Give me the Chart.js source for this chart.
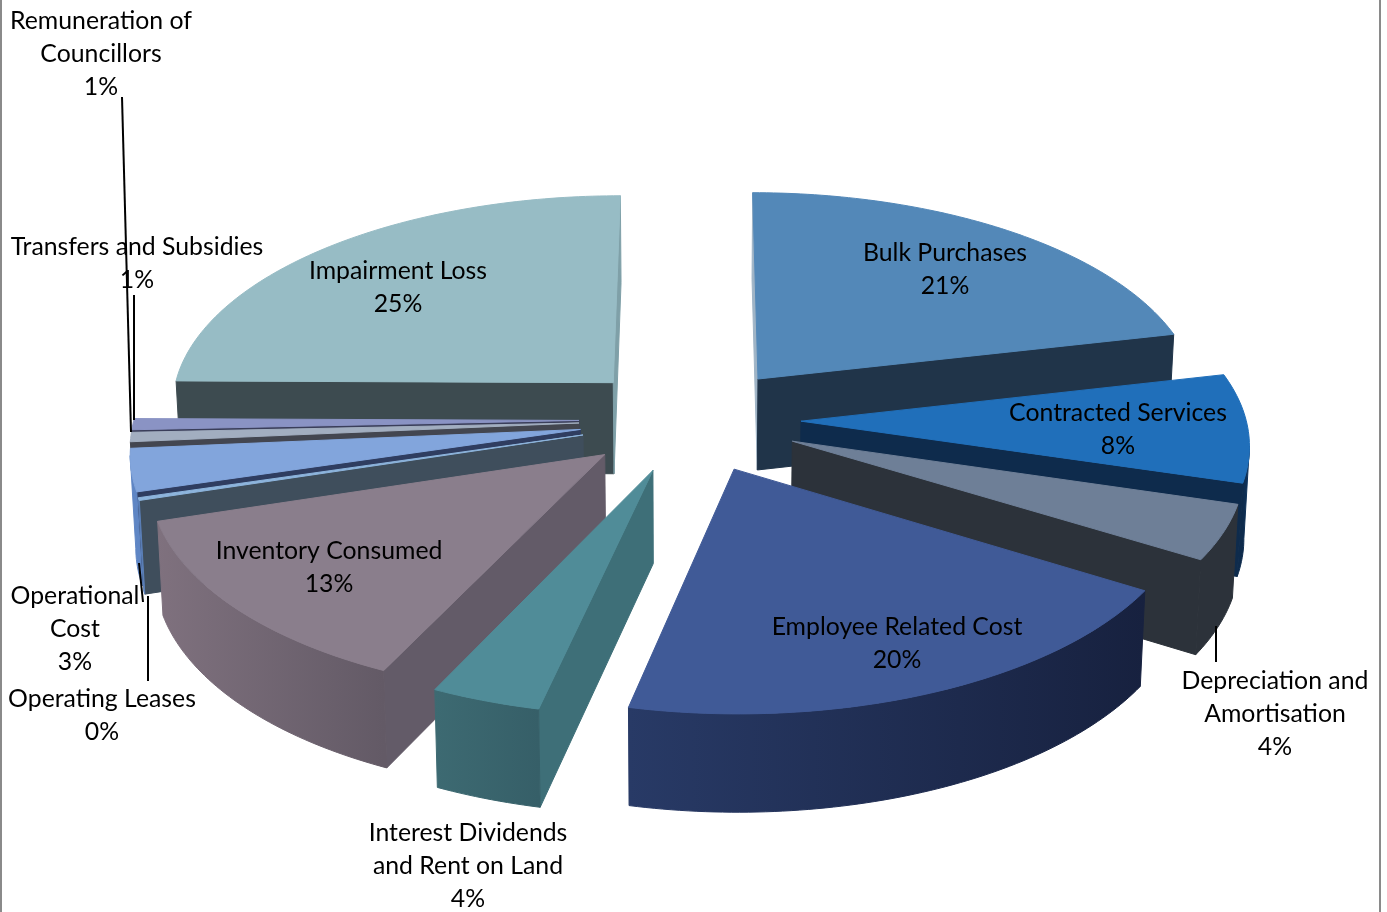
<!DOCTYPE html>
<html>
<head>
<meta charset="utf-8">
<title>Expenditure by category</title>
<script src="https://cdn.jsdelivr.net/npm/chart.js@4"></script>
<style>
  html, body { margin: 0; padding: 0; background: #fff; }
  canvas { display: block; }
</style>
</head>
<body>
<canvas id="pie" width="1387" height="912"></canvas>
<script>
// Share of expenditure per category, clockwise from twelve o'clock.
const categories = [
  'Bulk Purchases', 'Contracted Services', 'Depreciation and Amortisation',
  'Employee Related Cost', 'Interest Dividends and Rent on Land', 'Inventory Consumed',
  'Operating Leases', 'Operational Cost', 'Remuneration of Councillors',
  'Transfers and Subsidies', 'Impairment Loss'
];
const shares = [21.4, 8.2, 4.15, 19.75, 3.55, 13.15, 0.2, 3.2, 0.7, 0.84, 24.86];

// Face colours of each slice.
const topColors = ['#5388b8', '#206fba', '#6e7f97', '#405a97', '#508c98', '#8a7e8c',
                   '#8db4dc', '#82a5dc', '#a2aec0', '#8a93c4', '#97bcc5'];
const startWallColors = ['#9fb4c6', '#0e2b4c', '#2c323a', '#182240', '#3e6f78', '#635b68',
                         '#3f4e5c', '#2f3d60', '#434650', '#3a3e5a', '#3d4b50'];
const endWallColors = ['#203449', '#0e2b4c', '#2c323a', '#182240', '#3e6f78', '#635b68',
                       '#3f4e5c', '#2f3d60', '#434650', '#3a3e5a', '#7fa0a8'];
const rimLeftColors = ['#203449', '#0e2b4c', '#2c323a', '#283a66', '#3d6a72', '#7f717e',
                       '#5a7fb8', '#5f86c4', '#434650', '#3a3e5a', '#3d4b50'];
const rimRightColors = ['#203449', '#0e3560', '#2c323a', '#17213f', '#365f68', '#635a66',
                        '#5a7fb8', '#5f86c4', '#434650', '#3a3e5a', '#3d4b50'];

// Where each category's text block sits: centre x, first line centre y, wrap width.
const labelBoxes = [
  { x: 945, y: 253, w: 300 }, { x: 1118, y: 413, w: 300 }, { x: 1275, y: 681, w: 200 },
  { x: 897, y: 627, w: 300 }, { x: 468, y: 833, w: 210 }, { x: 329, y: 551, w: 300 },
  { x: 102, y: 699, w: 300 }, { x: 75, y: 596, w: 140 }, { x: 101, y: 21, w: 200 },
  { x: 137, y: 247, w: 300 }, { x: 398, y: 271, w: 300 }
];
const leaderLines = [
  [122, 97, 131, 432], [134, 295, 134, 420], [139, 563, 143, 602],
  [148, 596, 148, 681], [1216, 626, 1216, 662]
];

// Camera: the pie plane is seen in perspective, converging on a far vanishing point.
const camera = { cx: 690, cy: 419.5, vanishX: 696, vanishY: -1800, falloff: 0.000214 };
const LINE_HEIGHT = 32.8;
const FONT = '24.8px Lato';

function project(u, w) {
  const s = 1 / (1 - camera.falloff * w);
  return {
    x: camera.vanishX + (camera.cx - camera.vanishX + u) * s,
    y: camera.vanishY + (camera.cy - camera.vanishY) * s
  };
}
// Matching point on the underside of the extruded pie.
function lower(p) {
  return {
    x: camera.cx + (p.x - camera.cx) * 0.99,
    y: p.y + 91 + 0.022 * (p.y - 380)
  };
}

function sliceOutline(arc) {
  const off = arc.options.offset || 0;
  const mid = (arc.startAngle + arc.endAngle) / 2;
  const ox = Math.cos(mid) * off, oy = Math.sin(mid) * off;
  const R = arc.outerRadius;
  const steps = Math.max(2, Math.ceil((arc.endAngle - arc.startAngle) / (Math.PI / 180)));
  const rim = [];
  for (let i = 0; i <= steps; i++) {
    const a = arc.startAngle + (arc.endAngle - arc.startAngle) * i / steps;
    rim.push(project(ox + R * Math.cos(a), oy + R * Math.sin(a)));
  }
  return { apex: project(ox, oy), rim };
}

function fillPath(ctx, pts, fill) {
  ctx.beginPath();
  pts.forEach((p, i) => (i ? ctx.lineTo(p.x, p.y) : ctx.moveTo(p.x, p.y)));
  ctx.closePath();
  ctx.fillStyle = fill;
  ctx.strokeStyle = fill;
  ctx.lineWidth = 1;
  ctx.fill();
  ctx.stroke();
}

function drawSlice(ctx, arc, i) {
  const { apex, rim } = sliceOutline(arc);
  const first = rim[0], last = rim[rim.length - 1];
  // Only faces turned towards the viewer need painting: edges running leftwards.
  if (first.x < apex.x) fillPath(ctx, [apex, first, lower(first), lower(apex)], startWallColors[i]);
  if (apex.x < last.x) fillPath(ctx, [last, apex, lower(apex), lower(last)], endWallColors[i]);
  const facing = rim.filter((p, k) => (k < rim.length - 1 && rim[k + 1].x < p.x) || (k > 0 && p.x < rim[k - 1].x));
  if (facing.length > 1) {
    const xs = facing.map(p => p.x);
    const grad = ctx.createLinearGradient(Math.min(...xs), 0, Math.max(...xs) + 0.01, 0);
    grad.addColorStop(0, rimLeftColors[i]);
    grad.addColorStop(1, rimRightColors[i]);
    fillPath(ctx, [...facing, ...facing.map(lower).reverse()], grad);
  }
  fillPath(ctx, [apex, ...rim], topColors[i]);
}

const pie3d = {
  id: 'pie3d',
  beforeDraw(chart) {
    const { ctx } = chart;
    ctx.save();
    ctx.fillStyle = '#fff';
    ctx.fillRect(0, 0, 1387, 912);
    ctx.fillStyle = '#8a8a8a';
    ctx.fillRect(0, 0, 2, 912);
    ctx.fillRect(1379, 0, 2, 912);
    ctx.restore();
  },
  beforeDatasetDraw(chart, args) {
    const { ctx } = chart;
    const arcs = chart.getDatasetMeta(args.index).data;
    const order = arcs.map((arc, i) => i).sort((p, q) => {
      const depth = a => Math.sin((a.startAngle + a.endAngle) / 2);
      return depth(arcs[p]) - depth(arcs[q]);
    });
    ctx.save();
    order.forEach(i => drawSlice(ctx, arcs[i], i));
    ctx.restore();
    return false;
  },
  afterDatasetsDraw(chart) {
    const { ctx } = chart;
    ctx.save();
    ctx.strokeStyle = '#000';
    ctx.lineWidth = 2;
    leaderLines.forEach(([x0, y0, x1, y1]) => {
      ctx.beginPath();
      ctx.moveTo(x0, y0);
      ctx.lineTo(x1, y1);
      ctx.stroke();
    });
    ctx.font = FONT;
    ctx.fillStyle = '#000';
    ctx.textAlign = 'center';
    ctx.textBaseline = 'middle';
    categories.forEach((name, i) => {
      const box = labelBoxes[i];
      const lines = [];
      name.split(' ').forEach(word => {
        const cur = lines[lines.length - 1];
        if (cur !== undefined && ctx.measureText(cur + ' ' + word).width <= box.w) {
          lines[lines.length - 1] = cur + ' ' + word;
        } else {
          lines.push(word);
        }
      });
      lines.push(Math.round(shares[i]) + '%');
      lines.forEach((text, k) => ctx.fillText(text, box.x, box.y + k * LINE_HEIGHT));
    });
    ctx.restore();
  }
};

new Chart(document.getElementById('pie'), {
  type: 'pie',
  data: {
    labels: categories,
    datasets: [{ data: shares, backgroundColor: topColors, borderWidth: 0, offset: 111 }]
  },
  options: {
    responsive: false,
    animation: false,
    radius: 445,
    events: [],
    layout: { padding: 0 },
    plugins: { legend: { display: false }, tooltip: { enabled: false } }
  },
  plugins: [pie3d]
});
</script>
</body>
</html>
